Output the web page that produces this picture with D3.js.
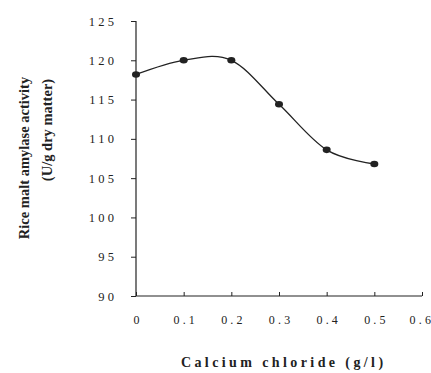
<!DOCTYPE html>
<html>
<head>
<meta charset="utf-8">
<script src="https://cdn.jsdelivr.net/npm/d3@7"></script>
<style>
  html, body { margin: 0; padding: 0; background: #fff; }
  svg { display: block; }
  .tick text { font-family: "Liberation Serif", "DejaVu Serif", serif; fill: #222; }
</style>
</head>
<body>
<svg id="chart" width="431" height="373"></svg>
<script>
// Calcium chloride concentration (g/l) and rice malt amylase activity (U/g dry matter)
const concentration = [0, 0.1, 0.2, 0.3, 0.4, 0.5];
const activity = [118.2, 120.0, 120.0, 114.4, 108.6, 106.8];
const xTicks = [0, 0.1, 0.2, 0.3, 0.4, 0.5, 0.6];
const yTicks = [90, 95, 100, 105, 110, 115, 120, 125];

const svg = d3.select("#chart");
const plot = { left: 136, right: 422, top: 21, bottom: 296 };

const x = d3.scaleLinear().domain([0, 0.6]).range([plot.left, plot.right]);
const y = d3.scaleLinear().domain([90, 125]).range([plot.bottom, plot.top]);

const ink = "#222";

// Spread the characters of a label apart without trailing space
function spaceOut(sel, gap) {
  sel.each(function () {
    const t = d3.select(this);
    const chars = t.text().split("");
    t.text(null);
    chars.forEach((c, i) => t.append("tspan").attr("dx", i ? gap : 0).text(c));
  });
}

// Y axis
const yAxis = svg.append("g")
  .attr("transform", `translate(${plot.left},0)`)
  .call(d3.axisLeft(y).tickValues(yTicks).tickSize(5).tickPadding(17).tickFormat(d3.format("d")));
yAxis.select(".domain").attr("stroke", ink).attr("stroke-width", 1.2).attr("d", `M0,${plot.top}V${plot.bottom}`);
yAxis.selectAll(".tick line").attr("stroke", ink).attr("stroke-width", 1);
yAxis.selectAll(".tick text").attr("font-size", 12.5).call(spaceOut, 3.2);

// X axis
const xAxis = svg.append("g")
  .attr("transform", `translate(0,${plot.bottom})`)
  .call(d3.axisBottom(x).tickValues(xTicks).tickSize(-4).tickPadding(19)
    .tickFormat(d => d === 0 ? "0" : d3.format(".1f")(d)));
xAxis.select(".domain").attr("stroke", ink).attr("stroke-width", 1.2).attr("d", `M${plot.left},0H${plot.right}`);
xAxis.selectAll(".tick line").attr("stroke", ink).attr("stroke-width", 1);
xAxis.selectAll(".tick text").attr("font-size", 12).call(spaceOut, 3.2);
// keep the last label inside the page edge
xAxis.selectAll(".tick text").filter(d => d === 0.6)
  .attr("text-anchor", "end").attr("x", 8.5);

// Smoothed curve through the measurements
const line = d3.line()
  .x((d, i) => x(concentration[i]))
  .y(d => y(d))
  .curve(d3.curveCardinal.tension(0));

svg.append("path")
  .datum(activity)
  .attr("d", line)
  .attr("fill", "none")
  .attr("stroke", ink)
  .attr("stroke-width", 1.3);

svg.selectAll("ellipse.pt")
  .data(activity)
  .join("ellipse")
  .attr("class", "pt")
  .attr("cx", (d, i) => x(concentration[i]))
  .attr("cy", d => y(d))
  .attr("rx", 4)
  .attr("ry", 3.3)
  .attr("fill", ink);

// Axis titles
svg.append("text")
  .attr("transform", "translate(29,158) rotate(-90)")
  .attr("text-anchor", "middle")
  .attr("font-family", "Liberation Serif, DejaVu Serif, serif")
  .attr("font-weight", "bold")
  .attr("font-size", 14.5)
  .attr("fill", ink)
  .text("Rice malt amylase activity");

svg.append("text")
  .attr("transform", "translate(52,130) rotate(-90)")
  .attr("text-anchor", "middle")
  .attr("font-family", "Liberation Serif, DejaVu Serif, serif")
  .attr("font-weight", "bold")
  .attr("font-size", 14.5)
  .attr("fill", ink)
  .text("(U/g dry matter)");

svg.append("text")
  .attr("x", 282)
  .attr("y", 367)
  .attr("text-anchor", "middle")
  .attr("font-family", "Liberation Serif, DejaVu Serif, serif")
  .attr("font-weight", "bold")
  .attr("font-size", 14)
  .attr("fill", ink)
  .text("Calcium chloride (g/l)")
  .call(spaceOut, 3.4);
</script>
</body>
</html>
